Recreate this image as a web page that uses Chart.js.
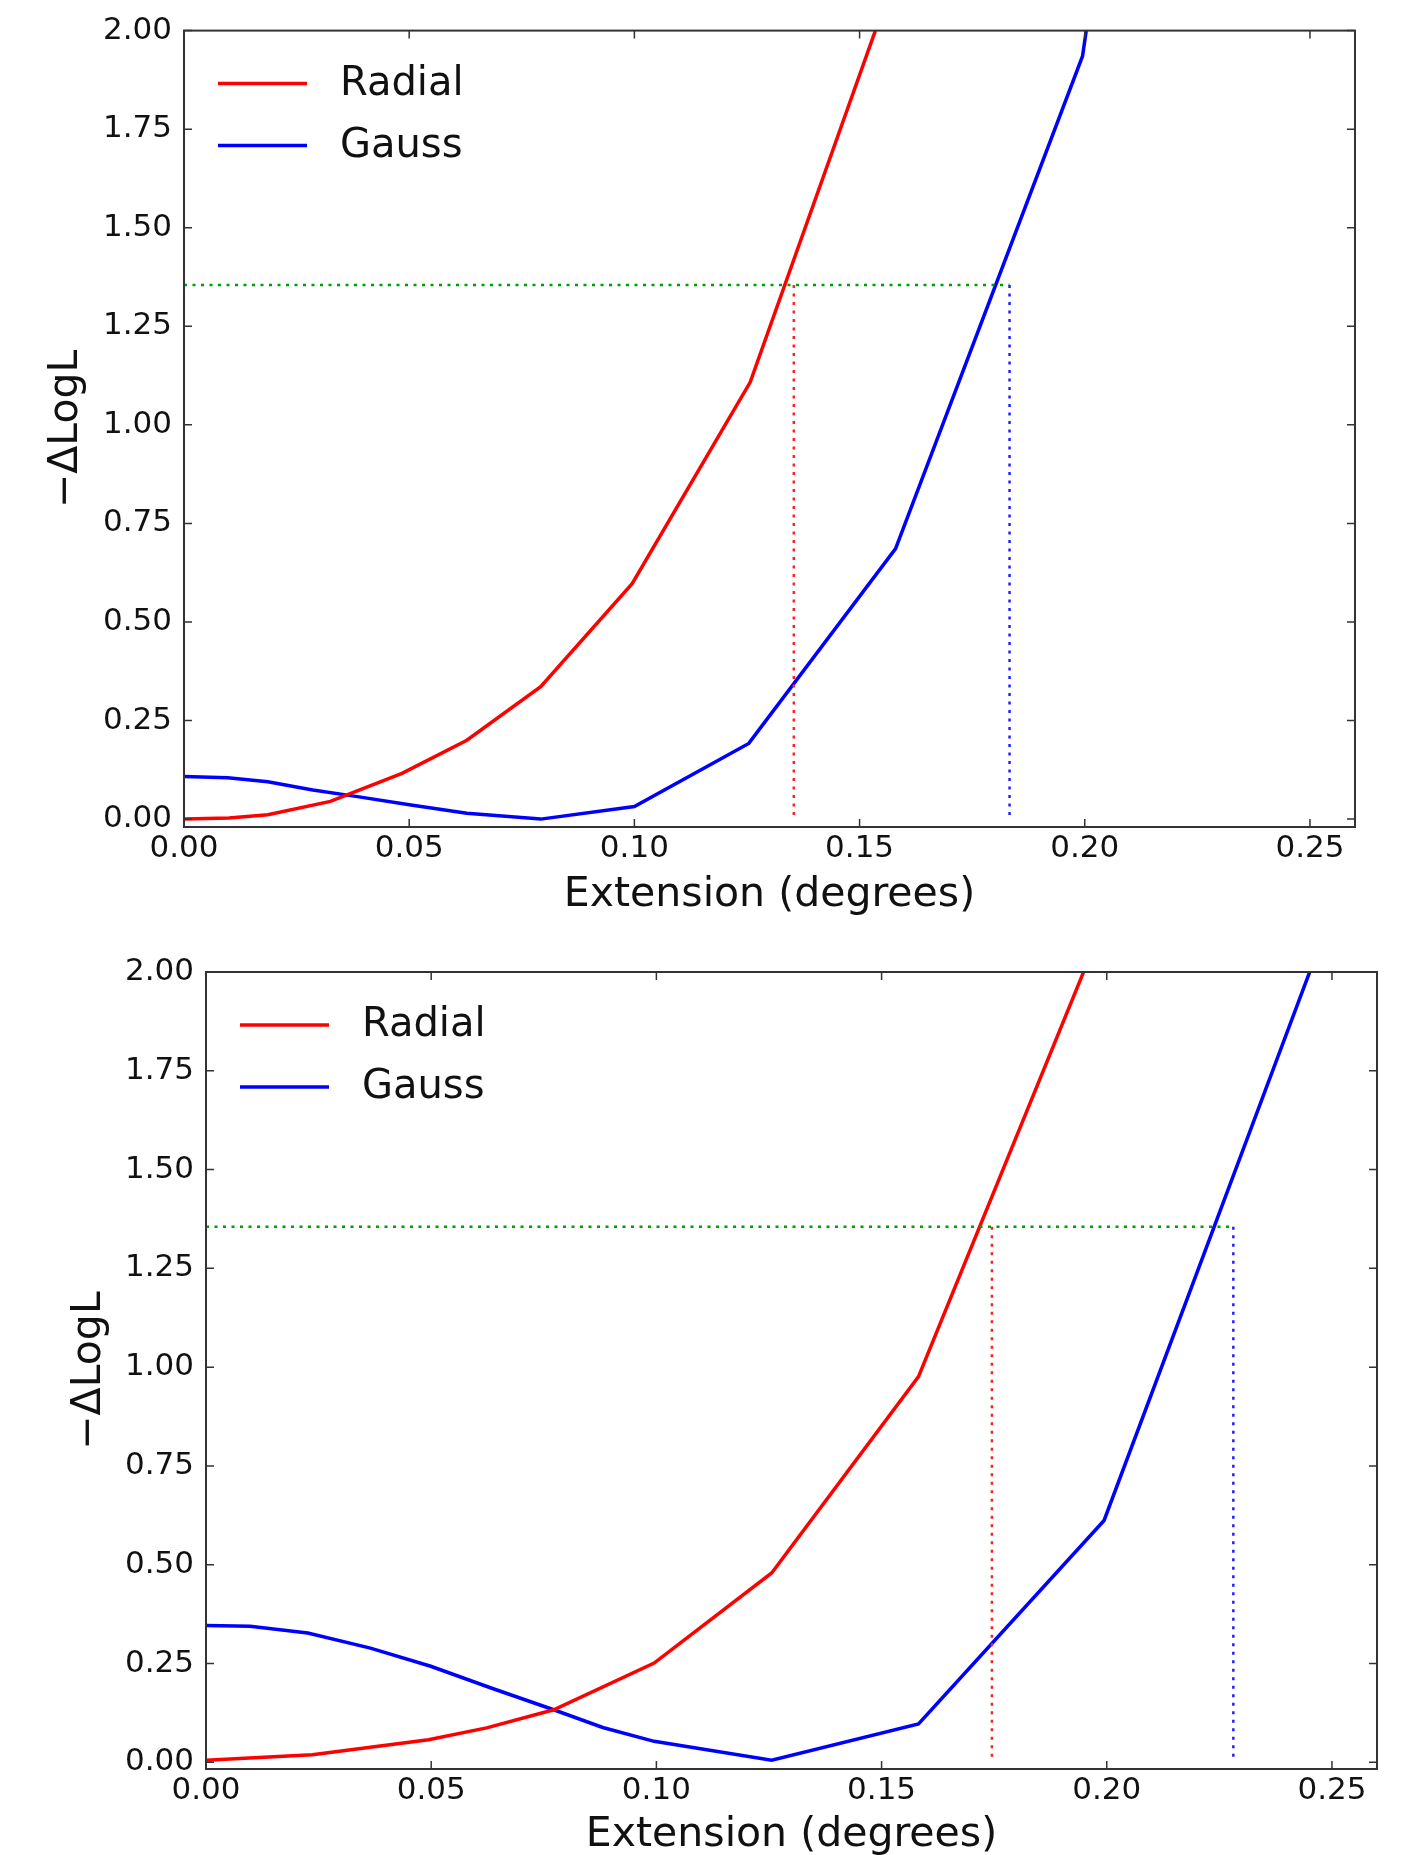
<!DOCTYPE html>
<html>
<head>
<meta charset="utf-8">
<title>−ΔLogL vs Extension</title>
<script src="https://cdn.jsdelivr.net/npm/chart.js@4.4.1/dist/chart.umd.min.js"></script>
<style>
  html, body { margin: 0; padding: 0; background: #fff; overflow: hidden; }
  #wrap { position: relative; width: 1404px; height: 1855px; overflow: hidden; background: #fff; }
  canvas { position: absolute; left: 0; }
  #topChart { top: 0; }
  #bottomChart { top: 927px; }
</style>
</head>
<body>
<div id="wrap">
  <canvas id="topChart" width="1404" height="927"></canvas>
  <canvas id="bottomChart" width="1404" height="940"></canvas>
</div>
<script>
// ticks dos eixos
const xTicks = [0, 0.05, 0.10, 0.15, 0.20, 0.25];
const yTicks = [0, 0.25, 0.50, 0.75, 1.00, 1.25, 1.50, 1.75, 2.00];

// painel de cima
const topRadialX = [0, 0.01, 0.0186, 0.0325, 0.0484, 0.0628, 0.0792, 0.0995, 0.1257, 0.1585];
const topRadialY = [0.00, 0.003, 0.011, 0.045, 0.116, 0.20, 0.336, 0.597, 1.108, 2.16];
const topGaussX = [0, 0.0097, 0.0186, 0.0286, 0.0385, 0.0504, 0.0628, 0.0792, 0.1, 0.1254, 0.158, 0.1995, 0.2512];
const topGaussY = [0.108, 0.105, 0.095, 0.074, 0.057, 0.036, 0.015, 0.00, 0.032, 0.192, 0.686, 1.935, 6.0];
const topThreshold = 1.355;
const topRadialLimit = 0.1354;
const topGaussLimit = 0.1833;

// painel de baixo
const botRadialX = [0, 0.0236, 0.0494, 0.0623, 0.0772, 0.0995, 0.1256, 0.1582, 0.1995];
const botRadialY = [0.005, 0.019, 0.057, 0.087, 0.133, 0.251, 0.479, 0.976, 2.13];
const botGaussX = [0, 0.0098, 0.0226, 0.0365, 0.0499, 0.0633, 0.0772, 0.0881, 0.0995, 0.1256, 0.1582, 0.1994, 0.2512];
const botGaussY = [0.346, 0.344, 0.327, 0.289, 0.243, 0.188, 0.133, 0.088, 0.053, 0.005, 0.097, 0.612, 2.187];
const botThreshold = 1.355;
const botRadialLimit = 0.1745;
const botGaussLimit = 0.2281;

const FONT = "'DejaVu Sans', 'Liberation Sans', sans-serif";
const TEXT = '#111';

function pts(xs, ys) {
    return xs.map((x, i) => ({ x: x, y: ys[i] }));
}

// moldura com ticks para dentro nos 4 lados + legenda (estilo matplotlib)
const framePlugin = {
    id: 'frame',
    afterDatasetsDraw(chart) {
        const { ctx, chartArea: a, scales } = chart;
        const tl = 8;
        ctx.save();
        ctx.strokeStyle = '#333';
        ctx.lineWidth = 2;
        ctx.strokeRect(a.left, a.top, a.right - a.left, a.bottom - a.top);
        ctx.lineWidth = 1.5;
        ctx.beginPath();
        xTicks.forEach(v => {
            const px = scales.x.getPixelForValue(v);
            ctx.moveTo(px, a.bottom); ctx.lineTo(px, a.bottom - tl);
            ctx.moveTo(px, a.top); ctx.lineTo(px, a.top + tl);
        });
        yTicks.forEach(v => {
            const py = scales.y.getPixelForValue(v);
            ctx.moveTo(a.left, py); ctx.lineTo(a.left + tl, py);
            ctx.moveTo(a.right, py); ctx.lineTo(a.right - tl, py);
        });
        ctx.stroke();

        // legenda
        const entries = chart.data.datasets.filter(d => d.inLegend);
        ctx.font = '40px ' + FONT;
        ctx.textBaseline = 'middle';
        ctx.textAlign = 'left';
        entries.forEach((d, i) => {
            const y = a.top + 53 + i * 62;
            ctx.strokeStyle = d.borderColor;
            ctx.lineWidth = d.borderWidth;
            ctx.setLineDash([]);
            ctx.beginPath();
            ctx.moveTo(a.left + 34, y);
            ctx.lineTo(a.left + 123, y);
            ctx.stroke();
            ctx.fillStyle = TEXT;
            ctx.fillText(d.label, a.left + 156, y + 1);
        });
        ctx.restore();
    }
};

function makeChart(canvasId, cfg) {
    const ctx = document.getElementById(canvasId).getContext('2d');
    const dotted = [3, 5.5];
    return new Chart(ctx, {
        type: 'line',
        data: {
            datasets: [
                {
                    label: 'Radial',
                    inLegend: true,
                    data: pts(cfg.radialX, cfg.radialY),
                    borderColor: '#ff0000',
                    borderWidth: 3.5,
                    pointRadius: 0,
                    tension: 0,
                    clip: 0,
                    order: 2
                },
                {
                    label: 'Gauss',
                    inLegend: true,
                    data: pts(cfg.gaussX, cfg.gaussY),
                    borderColor: '#0000ff',
                    borderWidth: 3.5,
                    pointRadius: 0,
                    tension: 0,
                    clip: 0,
                    order: 2
                },
                {
                    label: 'threshold',
                    data: [{ x: 0, y: cfg.threshold }, { x: cfg.gaussLimit, y: cfg.threshold }],
                    borderColor: '#00a000',
                    borderWidth: 2.5,
                    borderDash: dotted,
                    pointRadius: 0,
                    order: 1
                },
                {
                    label: 'radial limit',
                    data: [{ x: cfg.radialLimit, y: cfg.threshold }, { x: cfg.radialLimit, y: 0 }],
                    borderColor: '#ff2020',
                    borderWidth: 2.5,
                    borderDash: dotted,
                    pointRadius: 0,
                    order: 0
                },
                {
                    label: 'gauss limit',
                    data: [{ x: cfg.gaussLimit, y: cfg.threshold }, { x: cfg.gaussLimit, y: 0 }],
                    borderColor: '#2020ff',
                    borderWidth: 2.5,
                    borderDash: dotted,
                    pointRadius: 0,
                    order: 0
                }
            ]
        },
        options: {
            responsive: false,
            animation: false,
            devicePixelRatio: 1,
            layout: { padding: { top: cfg.padTop, right: cfg.padRight, left: 0, bottom: 0 } },
            plugins: {
                legend: { display: false },
                tooltip: { enabled: false }
            },
            scales: {
                x: {
                    type: 'linear',
                    min: 0,
                    max: 0.26,
                    afterBuildTicks: s => { s.ticks = xTicks.map(v => ({ value: v })); },
                    afterFit: s => { s.height = cfg.xAxisHeight; },
                    grid: { display: false, drawTicks: false },
                    border: { display: false },
                    ticks: {
                        padding: 3,
                        autoSkip: false,
                        maxRotation: 0,
                        color: TEXT,
                        font: { family: FONT, size: 31 },
                        callback: v => Number(v).toFixed(2)
                    },
                    title: {
                        display: true,
                        text: 'Extension (degrees)',
                        color: TEXT,
                        font: { family: FONT, size: 41 },
                        padding: { top: 0, bottom: 7 }
                    }
                },
                y: {
                    type: 'linear',
                    min: cfg.yMin,
                    max: 2.0,
                    afterBuildTicks: s => { s.ticks = yTicks.map(v => ({ value: v })); },
                    afterFit: s => { s.width = cfg.yAxisWidth; },
                    grid: { display: false, drawTicks: false },
                    border: { display: false },
                    ticks: {
                        padding: 12,
                        color: TEXT,
                        font: { family: FONT, size: 31 },
                        callback: v => Number(v).toFixed(2)
                    },
                    title: {
                        display: true,
                        text: '−ΔLogL',
                        color: TEXT,
                        font: { family: FONT, size: 41 },
                        padding: { top: cfg.yTitlePad, bottom: 0 }
                    }
                }
            }
        },
        plugins: [framePlugin]
    });
}

makeChart('topChart', {
    radialX: topRadialX, radialY: topRadialY,
    gaussX: topGaussX, gaussY: topGaussY,
    threshold: topThreshold, radialLimit: topRadialLimit, gaussLimit: topGaussLimit,
    yMin: -0.02,
    padTop: 29, padRight: 49, yAxisWidth: 184, xAxisHeight: 100, yTitlePad: 42
});

makeChart('bottomChart', {
    radialX: botRadialX, radialY: botRadialY,
    gaussX: botGaussX, gaussY: botGaussY,
    threshold: botThreshold, radialLimit: botRadialLimit, gaussLimit: botGaussLimit,
    yMin: -0.017,
    padTop: 45, padRight: 27, yAxisWidth: 206, xAxisHeight: 98, yTitlePad: 65
});
</script>
</body>
</html>
